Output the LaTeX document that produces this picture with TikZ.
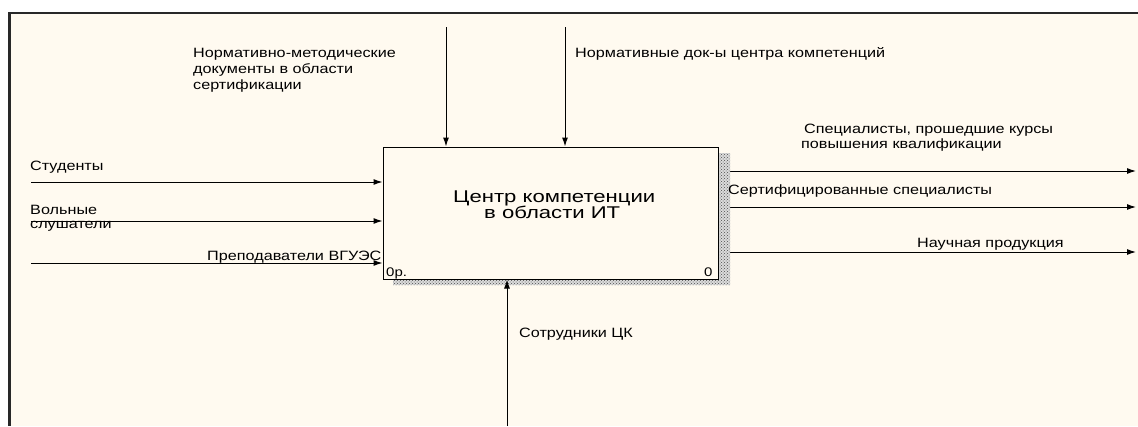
\documentclass[tikz,border=0pt]{standalone}
\usepackage{fontspec}
\setmainfont[FakeStretch=1.2]{Liberation Sans}
\newfontfamily\boxfont[FakeStretch=1.3]{Liberation Sans}
\usetikzlibrary{arrows.meta,patterns}
\definecolor{cream}{RGB}{255,250,240}
\definecolor{framec}{RGB}{40,40,40}
\pgfdeclarelayer{bglayer}
\pgfdeclarelayer{linelayer}
\pgfsetlayers{bglayer,linelayer,main}
\begin{document}
\begin{tikzpicture}[x=1pt,y=-1pt,
  lbl/.style={anchor=base west,inner sep=0pt,font=\fontsize{13.5}{16}\selectfont},
  boxlbl/.style={anchor=base west,inner sep=0pt,font=\boxfont\fontsize{17}{19}\selectfont},
  flow/.style={draw=black,line width=1pt,-{Latex[length=9pt,width=6pt]}},
  shadow/.style={fill=black!14,postaction={pattern=crosshatch dots,pattern color=black!70}},
  act/.style={draw=black,line width=1pt,fill=cream,minimum width=335pt,minimum height=132pt,inner sep=0pt}]
\useasboundingbox (0,0) rectangle (1138,426);
\begin{pgfonlayer}{bglayer}
\fill[white] (0,0) rectangle (1138,426);
\fill[cream] (10,13) rectangle (1138,426);
\draw[framec,line width=1.6pt] (8,13) -- (1138,13);
\draw[framec,line width=2.6pt] (9.5,13) -- (9.5,426);
\end{pgfonlayer}
% shadow
\path[shadow] (718,153) -- (730,153) -- (730,285) -- (393,285) -- (393,279) -- (718,279) -- cycle;
\node[act] (box) at (550.5,213) {};
\node[boxlbl] (t1) at (453,202) {Центр компетенции};
\node[boxlbl] (t2) at (484,218) {в области ИТ};
\node[lbl,font=\fontsize{12.5}{14}\selectfont] (n1) at (386,276) {0р.};
\node[lbl,font=\fontsize{12.5}{14}\selectfont] (n2) at (704,276) {0};
% outputs (under the shadow)
\coordinate (o1) at (1136,171);
\coordinate (o2) at (1136,207);
\coordinate (o3) at (1136,252);
\begin{pgfonlayer}{linelayer}
\draw[flow] (o1 -| box.east) -- (o1);
\draw[flow] (o2 -| box.east) -- (o2);
\draw[flow] (o3 -| box.east) -- (o3);
\end{pgfonlayer}
% controls
\coordinate (c1) at (446,27);
\coordinate (c2) at (565,27);
\draw[flow] (c1) -- (c1 |- box.north);
\draw[flow] (c2) -- (c2 |- box.north);
\node[lbl] (lc1a) at (193,57) {Нормативно-методические};
\node[lbl] (lc1b) at (193,73) {документы в области};
\node[lbl] (lc1c) at (193,89) {сертификации};
\node[lbl] (lc2) at (575,57) {Нормативные док-ы центра компетенций};
% inputs
\coordinate (i1) at (31,182);
\coordinate (i2) at (31,221);
\coordinate (i3) at (31,263);
\draw[flow] (i1) -- (i1 -| box.west);
\draw[flow] (i2) -- (i2 -| box.west);
\draw[flow] (i3) -- (i3 -| box.west);
\node[lbl] (li1) at (30,170) {Студенты};
\node[lbl] (li2a) at (30,214) {Вольные};
\node[lbl] (li2b) at (30,228) {слушатели};
\node[lbl] (li3) at (207,260) {Преподаватели ВГУЭС};
% output labels
\node[lbl] (lo1a) at (804,133) {Специалисты, прошедшие курсы};
\node[lbl] (lo1b) at (801,148) {повышения квалификации};
\node[lbl] (lo2) at (728,194) {Сертифицированные специалисты};
\node[lbl] (lo3) at (917,247) {Научная продукция};
% mechanism
\coordinate (m1) at (507,426);
\draw[flow] (m1) -- (m1 |- box.south);
\node[lbl] (lm1) at (519,337) {Сотрудники ЦК};
\end{tikzpicture}
\end{document}
